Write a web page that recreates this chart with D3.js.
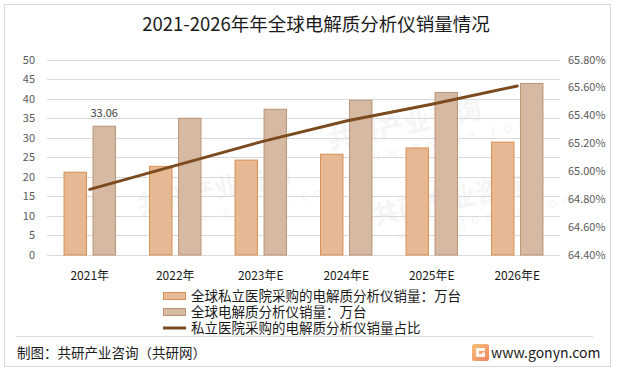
<!DOCTYPE html>
<html>
<head>
<meta charset="utf-8">
<script src="https://cdn.jsdelivr.net/npm/d3@7"></script>
<style>
  body { margin: 0; background: #fff; }
  svg text { font-family: "Noto Sans CJK SC", "Noto Sans", sans-serif; }
</style>
</head>
<body>
<div id="chart"></div>
<script>
// 數據
const categories = ['2021年', '2022年', '2023年E', '2024年E', '2025年E', '2026年E'];
const privateSales = [21.3, 22.8, 24.4, 25.9, 27.5, 29.0];   // 全球私立医院采购的电解质分析仪销量：万台
const globalSales = [33.06, 35.1, 37.4, 39.7, 41.7, 44.0];    // 全球电解质分析仪销量：万台
const shareRatio = [64.87, 65.04, 65.21, 65.36, 65.48, 65.61]; // 占比 %
const leftTicks = [0, 5, 10, 15, 20, 25, 30, 35, 40, 45, 50];
const rightTicks = [64.4, 64.6, 64.8, 65.0, 65.2, 65.4, 65.6, 65.8];
const seriesNames = [
    '全球私立医院采购的电解质分析仪销量：万台',
    '全球电解质分析仪销量：万台',
    '私立医院采购的电解质分析仪销量占比'
];

const width = 619, height = 374;
const plot = { left: 47, right: 560, top: 59.5, bottom: 255 };
const fills = ['#E6B994', '#D5B9A2'];
const strokes = ['#D68F52', '#BC9374'];
const lineColor = '#7B4A1F';

const svg = d3.select('#chart').append('svg')
    .attr('width', width)
    .attr('height', height);

// 外框
svg.append('rect')
    .attr('x', 4.5).attr('y', 4.5)
    .attr('width', 606).attr('height', 362)
    .attr('fill', '#fff')
    .attr('stroke', '#d9d9d9');

// 水印 (淡色, 放在繪圖區內)
const marks = [[140, 215], [330, 150], [375, 225]];
marks.forEach(([mx, my]) => {
    const g = svg.append('g')
        .attr('transform', `translate(${mx},${my}) rotate(-12)`)
        .attr('opacity', 0.035);
    g.append('text').attr('font-size', 26).attr('font-weight', 'bold')
        .attr('fill', '#000').text('共研产业咨询');
    g.append('text').attr('x', 20).attr('y', 20).attr('font-size', 14)
        .attr('letter-spacing', 6).attr('fill', '#000').text('www.gonyn.com');
});

// 標題
svg.append('text')
    .attr('x', 316).attr('y', 31)
    .attr('text-anchor', 'middle')
    .attr('font-size', 18.5)
    .attr('fill', '#1a1a1a')
    .text('2021-2026年年全球电解质分析仪销量情况');

// 比例尺
const x = d3.scaleBand()
    .domain(categories)
    .range([plot.left, plot.right])
    .paddingInner(0.387)
    .paddingOuter(0.1935);

const xSub = d3.scaleBand()
    .domain([0, 1])
    .range([0, x.bandwidth()])
    .paddingInner(0.193);

const yLeft = d3.scaleLinear().domain([0, 50]).range([plot.bottom, plot.top]);
const yRight = d3.scaleLinear().domain([64.4, 65.8]).range([plot.bottom, plot.top]);

// 網格線
svg.append('g')
    .selectAll('line')
    .data(leftTicks)
    .join('line')
    .attr('x1', plot.left).attr('x2', plot.right)
    .attr('y1', d => Math.round(yLeft(d)) + 0.5)
    .attr('y2', d => Math.round(yLeft(d)) + 0.5)
    .attr('stroke', '#d9d9d9');

// 左軸
const leftAxis = svg.append('g')
    .attr('transform', `translate(${plot.left - 12},0)`)
    .call(d3.axisLeft(yLeft).tickValues(leftTicks).tickSize(0).tickPadding(0));
leftAxis.select('.domain').remove();
leftAxis.selectAll('text').attr('font-size', 11).attr('fill', '#595959');

// 右軸
const rightAxis = svg.append('g')
    .attr('transform', `translate(${plot.right + 8},0)`)
    .call(d3.axisRight(yRight).tickValues(rightTicks).tickSize(0).tickPadding(0)
        .tickFormat(d => d.toFixed(2) + '%'));
rightAxis.select('.domain').remove();
rightAxis.selectAll('text').attr('font-size', 11).attr('fill', '#595959');

// X軸
const xAxis = svg.append('g')
    .attr('transform', `translate(0,${plot.bottom + 16})`)
    .call(d3.axisBottom(x).tickSize(0).tickPadding(0));
xAxis.select('.domain').remove();
xAxis.selectAll('text').attr('font-size', 12).attr('fill', '#1a1a1a');

// 柱狀
[privateSales, globalSales].forEach((values, s) => {
    svg.append('g')
        .selectAll('rect')
        .data(values)
        .join('rect')
        .attr('x', (d, i) => x(categories[i]) + xSub(s) + 0.5)
        .attr('y', d => yLeft(d) + 0.5)
        .attr('width', xSub.bandwidth() - 1)
        .attr('height', d => plot.bottom - yLeft(d) - 0.5)
        .attr('fill', fills[s])
        .attr('stroke', strokes[s])
        .attr('stroke-width', 1);
});

// 數據標籤 (只有第一根)
svg.append('text')
    .attr('x', x(categories[0]) + xSub(1) + xSub.bandwidth() / 2)
    .attr('y', yLeft(globalSales[0]) - 9)
    .attr('text-anchor', 'middle')
    .attr('font-size', 11)
    .attr('fill', '#404040')
    .text(globalSales[0].toFixed(2));

// 折線
const line = d3.line()
    .x((d, i) => x(categories[i]) + x.bandwidth() / 2)
    .y(d => yRight(d));

svg.append('path')
    .datum(shareRatio)
    .attr('d', line)
    .attr('fill', 'none')
    .attr('stroke', lineColor)
    .attr('stroke-width', 3)
    .attr('stroke-linecap', 'round');

// 圖例
const legend = svg.append('g').attr('transform', 'translate(163,296)');
seriesNames.forEach((name, i) => {
    const row = legend.append('g').attr('transform', `translate(0,${i * 16})`);
    if (i < 2) {
        row.append('rect')
            .attr('x', 0.5).attr('y', -3.5)
            .attr('width', 22).attr('height', 7)
            .attr('fill', fills[i])
            .attr('stroke', strokes[i]);
    } else {
        row.append('line')
            .attr('x1', 0).attr('x2', 23)
            .attr('y1', 0).attr('y2', 0)
            .attr('stroke', lineColor)
            .attr('stroke-width', 3);
    }
    row.append('text')
        .attr('x', 28).attr('y', 5)
        .attr('font-size', 13.5)
        .attr('fill', '#1a1a1a')
        .text(name);
});

// 底部
svg.append('line')
    .attr('x1', 16).attr('x2', 593)
    .attr('y1', 336.5).attr('y2', 336.5)
    .attr('stroke', '#d9d9d9');

svg.append('text')
    .attr('x', 17).attr('y', 358)
    .attr('font-size', 13.5)
    .attr('fill', '#1a1a1a')
    .text('制图：共研产业咨询（共研网）');

const grad = svg.append('defs').append('linearGradient')
    .attr('id', 'logoGrad')
    .attr('x1', '0').attr('y1', '0').attr('x2', '1').attr('y2', '1');
grad.append('stop').attr('offset', '0%').attr('stop-color', '#F9C27A');
grad.append('stop').attr('offset', '100%').attr('stop-color', '#EE8660');

const logo = svg.append('g').attr('transform', 'translate(472,344)');
logo.append('rect')
    .attr('width', 17).attr('height', 17).attr('rx', 2)
    .attr('fill', 'url(#logoGrad)');
logo.append('path')
    .attr('d', 'M4,4 H13 V7 H7 V10 H10 V8.5 H13 V13 H4 Z')
    .attr('fill', '#fff')
    .attr('opacity', 0.9);

svg.append('text')
    .attr('x', 491).attr('y', 358)
    .attr('font-family', '"Liberation Sans", Arial, sans-serif')
    .attr('font-size', 14)
    .attr('fill', '#1a1a1a')
    .text('www.gonyn.com');
</script>
</body>
</html>
